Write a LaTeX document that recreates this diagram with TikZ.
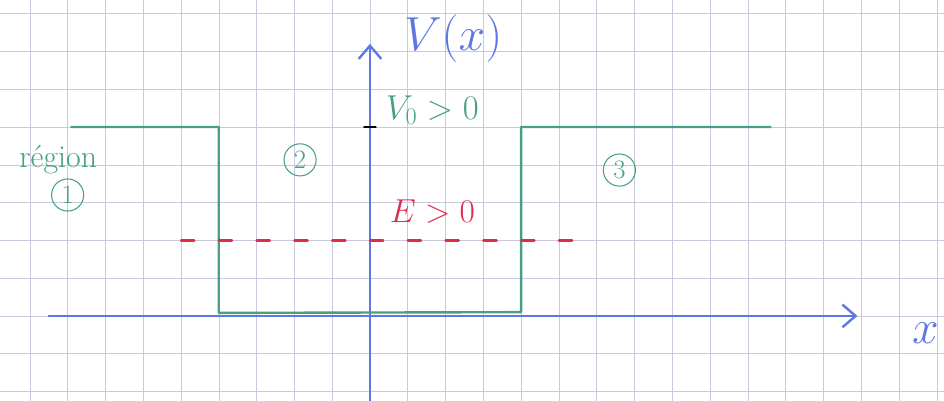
\RequirePackage{fix-cm}
\documentclass[tikz,border=0pt]{standalone}
\usepackage{fontspec}
\usetikzlibrary{arrows.meta}
\definecolor{gridlav}{RGB}{200,200,222}
\definecolor{penblue}{RGB}{95,120,225}
\definecolor{pengreen}{RGB}{70,160,130}
\definecolor{penred}{RGB}{220,45,75}
\tikzset{
    region/.style={circle, draw=pengreen, text=pengreen, thick, inner sep=0pt,
        minimum size=0.85cm, font=\fontsize{20}{24}\selectfont},
    pen/.style={line width=1.8pt, line cap=round, line join=round}
}
\begin{document}
\begin{tikzpicture}[>={Straight Barb[length=3.5mm,width=6mm]}]
    \useasboundingbox (-9.79,-2.25) rectangle (15.19,8.36);
    % Grid
    \draw[step=1cm, gridlav, thin] (-9.79,-2.25) grid (15.19,8.36);

    % Axes
    \draw[pen, penblue, ->] (-8.5,0) -- (12.9,0);
    \draw[pen, penblue, ->] (0,-2.25) -- (0,7.2);
    \node[penblue, font=\fontsize{36}{40}\selectfont] (xlab) at (14.7,-0.45) {$x$};
    \node[penblue, font=\fontsize{36}{40}\selectfont] (Vlab) at (2.2,7.35) {$V(x)$};

    % Potential well, height V0 at 5, walls at -4 and 4
    \draw[pen, pengreen] (-7.9,5) -- (-4,5) -- (-4,0.08) -- (4,0.1) -- (4,5) -- (10.6,5);
    \draw[pen] (-0.15,5) -- (0.15,5);
    \node[pengreen, font=\fontsize{26}{30}\selectfont] (V0) at (1.65,5.45) {$V_0>0$};

    % Energy level E
    \draw[pen, penred, dash pattern=on 0.35cm off 0.65cm] (-5,2) -- (5.6,2);
    \node[penred, font=\fontsize{25}{30}\selectfont] (E) at (1.65,2.75) {$E>0$};

    % Regions
    \node[pengreen, font=\fontsize{24}{28}\selectfont] (reg) at (-8.25,4.13) {région};
    \node[region] (r1) at (-8,3.2) {1};
    \node[region] (r2) at (-1.85,4.13) {2};
    \node[region] (r3) at (6.6,3.86) {3};

\end{tikzpicture}
\end{document}
